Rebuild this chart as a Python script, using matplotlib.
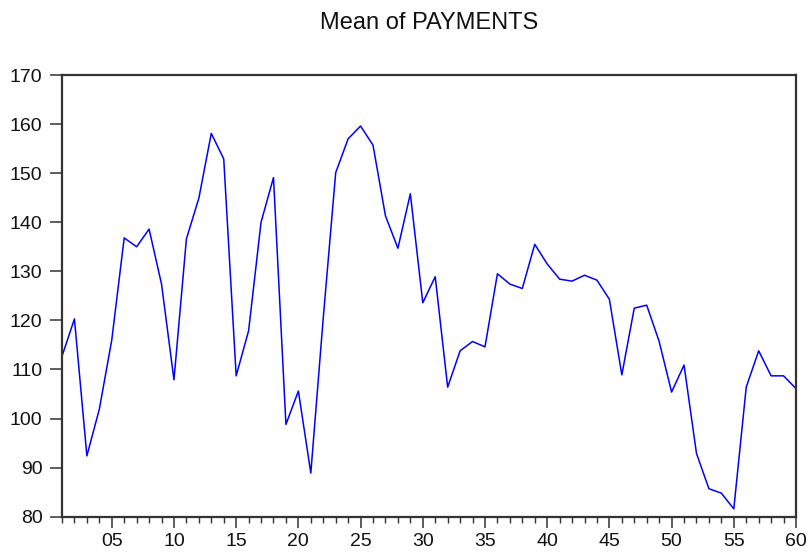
import matplotlib
matplotlib.use("Agg")
import matplotlib.pyplot as plt
from matplotlib.ticker import MultipleLocator, FixedLocator

plt.rcParams['font.family'] = ['Liberation Sans', 'DejaVu Sans']

periods = list(range(1, 61))
payments = [112.7, 120.3, 92.4, 101.9, 116.0, 136.8, 135.0, 138.6, 127.4, 107.9,
            136.6, 144.9, 158.1, 152.9, 108.7, 117.9, 140.0, 149.1, 98.8, 105.6,
            88.9, 120.5, 150.1, 157.0, 159.6, 155.7, 141.3, 134.7, 145.8, 123.6,
            128.9, 106.4, 113.8, 115.7, 114.6, 129.5, 127.4, 126.5, 135.5, 131.5,
            128.4, 128.0, 129.2, 128.2, 124.3, 108.9, 122.5, 123.1, 115.7, 105.4,
            110.9, 92.9, 85.7, 84.8, 81.6, 106.4, 113.8, 108.7, 108.7, 106.1]
xtick_vals = [5, 10, 15, 20, 25, 30, 35, 40, 45, 50, 55, 60]
xtick_labels = ["05", "10", "15", "20", "25", "30", "35", "40", "45", "50", "55", "60"]
title = "Mean of PAYMENTS"

fig = plt.figure(figsize=(8.08, 5.56), dpi=100)
ax = fig.add_axes([62/808, 1-516.7/556, (796-62)/808, (516.7-75)/556])
ax.plot(periods, payments, color='#0000FF', linewidth=1.1)
ax.set_xlim(1, 60)
ax.set_ylim(80, 170)
ax.yaxis.set_major_locator(MultipleLocator(10))
ax.xaxis.set_major_locator(FixedLocator(xtick_vals))
ax.set_xticklabels(xtick_labels)
ax.xaxis.set_minor_locator(MultipleLocator(1))
for s in ax.spines.values():
    s.set_color('#333333')
    s.set_linewidth(1.6)
ax.tick_params(axis='y', direction='out', length=9, width=1.1, color='#333333',
               labelsize=14, pad=5, labelcolor='#111111')
ax.tick_params(axis='x', which='major', direction='out', length=8, width=1.1,
               color='#333333', labelsize=14, pad=4, labelcolor='#111111')
ax.tick_params(axis='x', which='minor', direction='out', length=4, width=1.0,
               color='#333333')
fig.text(429/808, 1-29.3/556, title, ha='center', va='baseline', fontsize=17,
         color='#111111')
fig.savefig('out.png', dpi=100)
